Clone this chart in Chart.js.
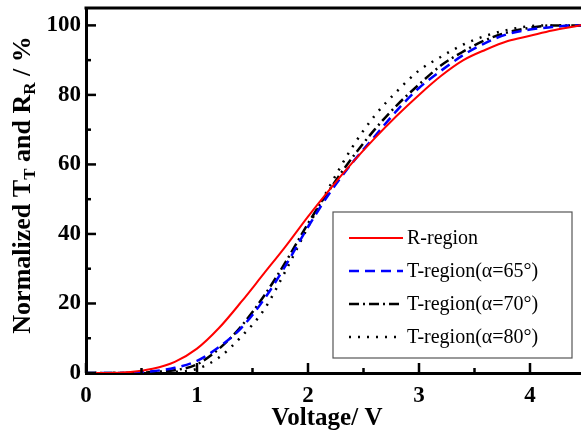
<!DOCTYPE html>
<html>
<head>
<meta charset="utf-8">
<script src="https://cdn.jsdelivr.net/npm/chart.js@4.4.0/dist/chart.umd.min.js"></script>
<style>
html, body { margin: 0; padding: 0; overflow: hidden; background: #fff; }
</style>
</head>
<body>
<canvas id="curves" width="590" height="438"></canvas>
<script>
// voltage points (V)
var voltage = [0, 0.2, 0.4, 0.6, 0.8, 1.0, 1.2, 1.4, 1.6, 1.8, 2.0, 2.2, 2.4, 2.6, 2.8, 3.0, 3.2, 3.4, 3.6, 3.8, 4.0, 4.2, 4.4, 4.5];
var rRegion = [0, 0, 0.3, 1.2, 3.2, 7, 13, 20.5, 28.5, 36.5, 45, 53, 60.5, 67.5, 74, 80, 85.5, 90, 93, 95.5, 97, 98.5, 99.7, 100.3];
var tRegion65 = [0, 0, 0, 0.5, 1.5, 3.5, 7.5, 13, 21, 31, 42, 52, 60.5, 68, 75.5, 82, 87, 91.5, 95, 97.5, 98.8, 99.5, 100, 100];
var tRegion70 = [0, 0, 0, 0.3, 0.8, 2.5, 7, 13.5, 22, 32, 43, 53, 62, 70, 77, 83, 88.5, 92.5, 95.8, 98, 99.3, 100, 100, 100];
var tRegion80 = [0, 0, 0, 0, 0.3, 1.2, 4.5, 10.5, 18, 29.5, 42, 54, 65, 74, 81, 87, 91, 94.5, 97, 98.7, 99.8, 100, 100, 100];

var seriesNames = ['R-region', 'T-region(\u03b1=65\u00b0)', 'T-region(\u03b1=70\u00b0)', 'T-region(\u03b1=80\u00b0)'];
var xTicks = [0, 1, 2, 3, 4];
var xMinor = [0.5, 1.5, 2.5, 3.5];
var yTicks = [0, 20, 40, 60, 80, 100];
var yMinor = [10, 30, 50, 70, 90];

function pairs(ys) {
  return voltage.map(function (v, i) { return { x: v, y: ys[i] }; });
}

var serif = '"Liberation Serif", "Times New Roman", serif';

// inward ticks, top frame line, axis titles, boxed legend
var extras = {
  id: 'extras',
  afterDraw: function (chart) {
    var ctx = chart.ctx;
    var a = chart.chartArea;
    var xs = chart.scales.x, ys = chart.scales.y;
    ctx.save();
    ctx.strokeStyle = '#000';
    ctx.lineWidth = 3;
    ctx.beginPath();
    ctx.moveTo(a.left - 1.5, a.top);
    ctx.lineTo(a.right + 2, a.top);
    ctx.stroke();

    ctx.lineWidth = 2.5;
    function xt(v, len) {
      var px = xs.getPixelForValue(v);
      ctx.beginPath(); ctx.moveTo(px, a.bottom); ctx.lineTo(px, a.bottom - len); ctx.stroke();
    }
    function yt(v, len) {
      var py = ys.getPixelForValue(v);
      ctx.beginPath(); ctx.moveTo(a.left, py); ctx.lineTo(a.left + len, py); ctx.stroke();
    }
    xTicks.forEach(function (v) { xt(v, 10); });
    xMinor.forEach(function (v) { xt(v, 5); });
    yTicks.forEach(function (v) { yt(v, 10); });
    yMinor.forEach(function (v) { yt(v, 5); });

    // x title
    ctx.fillStyle = '#000';
    ctx.font = 'bold 25px ' + serif;
    ctx.textAlign = 'center';
    ctx.textBaseline = 'middle';
    ctx.fillText('Voltage/ V', 327, 419);

    // y title with subscripts
    var parts = [['Normalized T', 0], ['T', 1], [' and R', 0], ['R', 1], [' / %', 0]];
    var big = 'bold 26px ' + serif, small = 'bold 17px ' + serif;
    ctx.translate(23, 185);
    ctx.rotate(-Math.PI / 2);
    var total = 0;
    parts.forEach(function (p) { ctx.font = p[1] ? small : big; total += ctx.measureText(p[0]).width; });
    var cx = -total / 2;
    ctx.textAlign = 'left';
    parts.forEach(function (p) {
      ctx.font = p[1] ? small : big;
      ctx.fillText(p[0], cx, p[1] ? 8 : 0);
      cx += ctx.measureText(p[0]).width;
    });
    ctx.setTransform(1, 0, 0, 1, 0, 0);

    // legend box
    var bx = 333, by = 212, bw = 239, bh = 146;
    ctx.fillStyle = '#fff';
    ctx.fillRect(bx, by, bw, bh);
    ctx.strokeStyle = '#555';
    ctx.lineWidth = 1.2;
    ctx.strokeRect(bx, by, bw, bh);
    var rows = [238, 271, 304, 337];
    chart.data.datasets.forEach(function (ds, i) {
      ctx.strokeStyle = ds.borderColor;
      ctx.lineWidth = ds.borderWidth;
      ctx.setLineDash(ds.borderDash || []);
      ctx.beginPath();
      ctx.moveTo(349, rows[i]);
      ctx.lineTo(403, rows[i]);
      ctx.stroke();
      ctx.setLineDash([]);
      ctx.fillStyle = '#000';
      ctx.font = '20px ' + serif;
      ctx.textAlign = 'left';
      ctx.textBaseline = 'middle';
      ctx.fillText(ds.label, 407, rows[i] + 1);
    });
    ctx.restore();
  }
};

var chart = new Chart(document.getElementById('curves').getContext('2d'), {
  type: 'scatter',
  data: {
    datasets: [{
      label: seriesNames[0],
      data: pairs(rRegion),
      borderColor: '#ff0000',
      borderWidth: 2
    }, {
      label: seriesNames[1],
      data: pairs(tRegion65),
      borderColor: '#0000ff',
      borderWidth: 2.5,
      borderDash: [10, 6]
    }, {
      label: seriesNames[2],
      data: pairs(tRegion70),
      borderColor: '#000000',
      borderWidth: 2.5,
      borderDash: [10, 4, 2, 4]
    }, {
      label: seriesNames[3],
      data: pairs(tRegion80),
      borderColor: '#000000',
      borderWidth: 2.5,
      borderDash: [2, 7]
    }]
  },
  options: {
    responsive: false,
    animation: false,
    showLine: true,
    elements: {
      point: { radius: 0 },
      line: { cubicInterpolationMode: 'monotone', fill: false }
    },
    layout: { padding: { top: 8, right: 4.5, left: 0, bottom: 0 } },
    plugins: { legend: { display: false }, tooltip: { enabled: false } },
    scales: {
      x: {
        type: 'linear',
        min: 0,
        max: 4.5,
        afterBuildTicks: function (s) { s.ticks = xTicks.map(function (v) { return { value: v }; }); },
        afterFit: function (s) { s.height = 65; s.paddingLeft = 0; s.paddingRight = 0; },
        grid: { display: false, drawTicks: false },
        border: { display: true, color: '#000', width: 3 },
        ticks: { color: '#000', padding: 9, maxRotation: 0, font: { family: serif, size: 23, weight: 'bold' } }
      },
      y: {
        min: 0,
        max: 105,
        afterBuildTicks: function (s) { s.ticks = yTicks.map(function (v) { return { value: v }; }); },
        afterFit: function (s) { s.width = 86; s.paddingTop = 0; s.paddingBottom = 0; },
        grid: { display: false, drawTicks: false },
        border: { display: true, color: '#000', width: 3 },
        ticks: { color: '#000', padding: 5, font: { family: serif, size: 23, weight: 'bold' } }
      }
    }
  },
  plugins: [extras]
});
</script>
</body>
</html>
